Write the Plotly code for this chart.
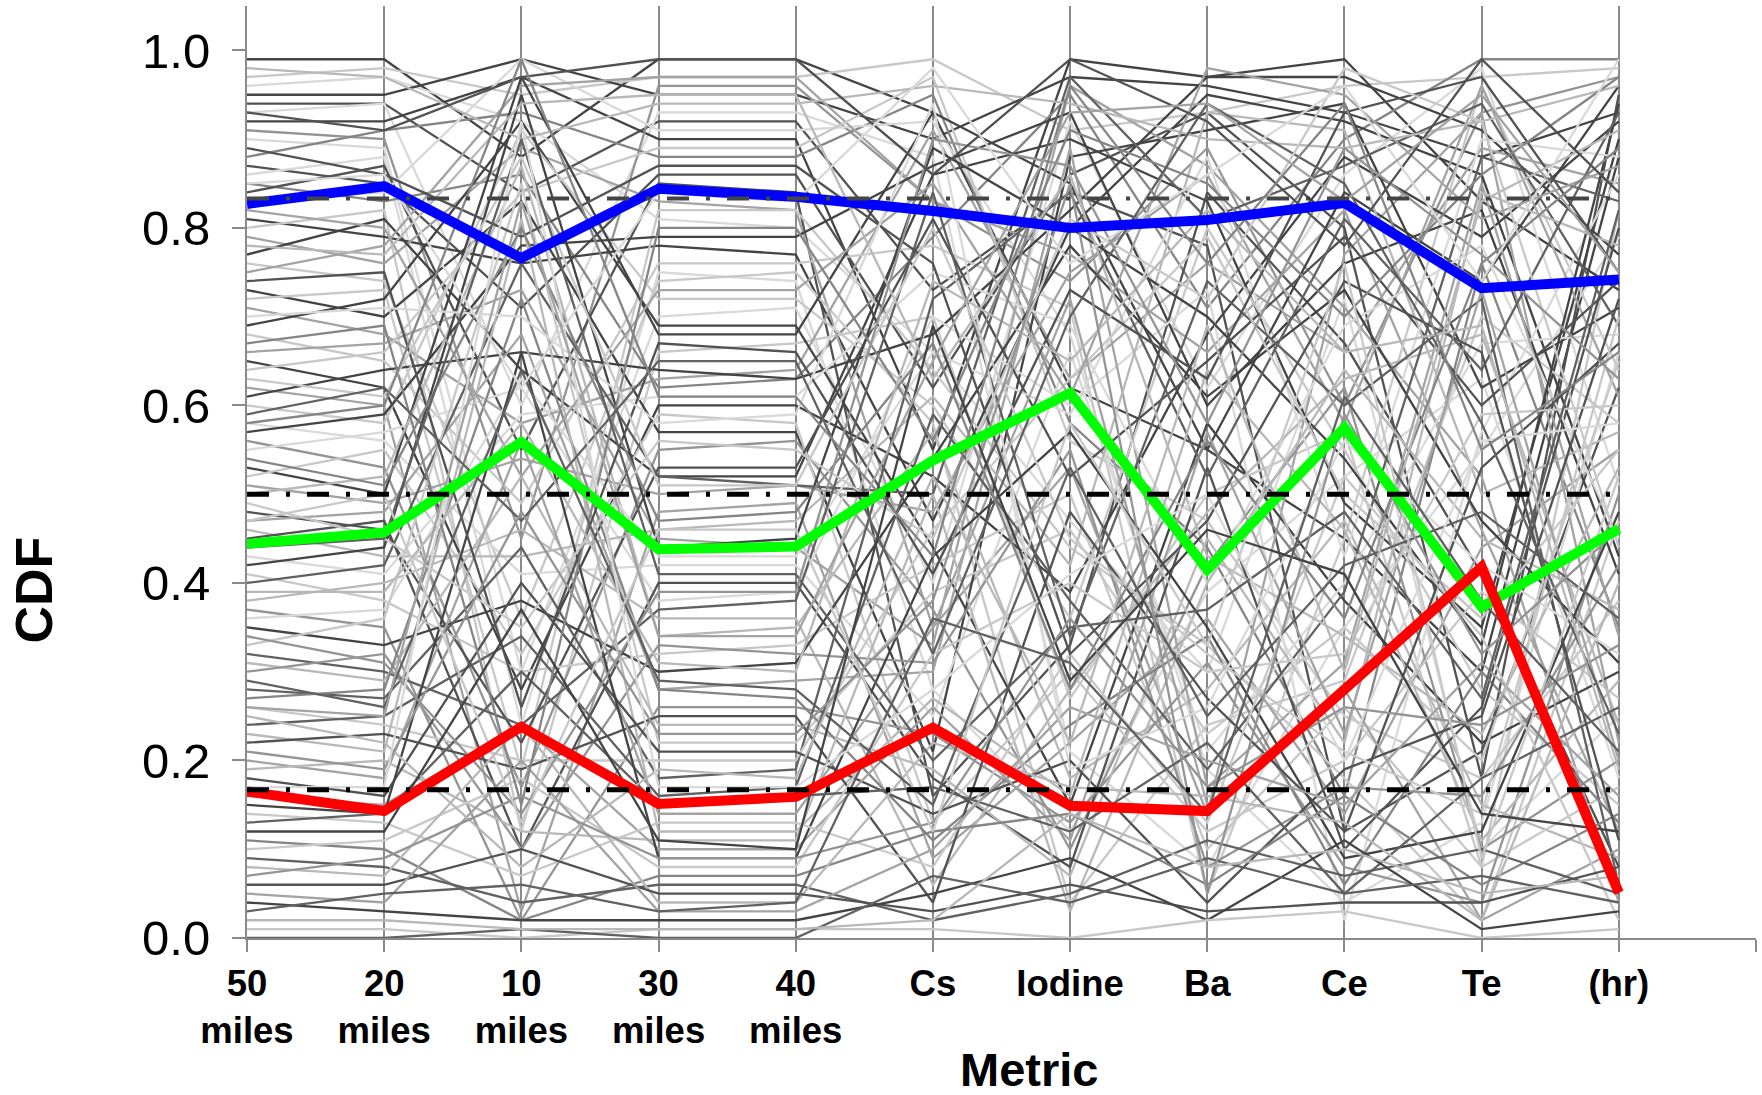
import plotly.graph_objects as go

# ---------------- data ----------------
CATEGORIES = ["50<br>miles", "20<br>miles", "10<br>miles", "30<br>miles", "40<br>miles",
              "Cs", "Iodine", "Ba", "Ce", "Te", "(hr)"]

BLUE_LINE = [0.827, 0.847, 0.766, 0.844, 0.835, 0.819, 0.800, 0.809, 0.828, 0.732, 0.742]
GREEN_LINE = [0.444, 0.457, 0.559, 0.438, 0.441, 0.538, 0.614, 0.415, 0.575, 0.373, 0.461]
RED_LINE = [0.165, 0.143, 0.238, 0.151, 0.159, 0.237, 0.149, 0.143, 0.280, 0.418, 0.051]

REF_LEVELS = [0.833, 0.5, 0.167]

GRAY_LINES = [
    [0.99, 0.99, 0.88, 0.99, 0.99, 0.93, 0.62, 0.55, 0.45, 0.30, 0.88],
    [0.97, 0.98, 0.95, 0.97, 0.97, 0.99, 0.91, 0.93, 0.96, 0.97, 0.98],
    [0.96, 0.97, 0.92, 0.81, 0.80, 0.66, 0.47, 0.30, 0.72, 0.10, 0.25],
    [0.95, 0.95, 0.99, 0.95, 0.95, 0.90, 0.97, 0.96, 0.93, 0.88, 0.93],
    [0.94, 0.94, 0.84, 0.92, 0.92, 0.73, 0.84, 0.78, 0.12, 0.21, 0.62],
    [0.93, 0.94, 0.60, 0.93, 0.93, 0.88, 0.21, 0.08, 0.35, 0.55, 0.79],
    [0.92, 0.92, 0.97, 0.90, 0.90, 0.55, 0.99, 0.97, 0.99, 0.83, 0.73],
    [0.91, 0.90, 0.45, 0.96, 0.96, 0.83, 0.74, 0.89, 0.60, 0.93, 0.97],
    [0.90, 0.89, 0.30, 0.70, 0.71, 0.40, 0.92, 0.62, 0.86, 0.98, 0.51],
    [0.88, 0.91, 0.93, 0.88, 0.88, 0.95, 0.58, 0.44, 0.16, 0.76, 0.35],
    [0.87, 0.85, 0.71, 0.86, 0.86, 0.62, 0.86, 0.93, 0.80, 0.18, 0.95],
    [0.86, 0.88, 0.24, 0.75, 0.74, 0.28, 0.12, 0.39, 0.52, 0.63, 0.18],
    [0.85, 0.83, 0.86, 0.62, 0.63, 0.79, 0.95, 0.71, 0.90, 0.99, 0.99],
    [0.84, 0.87, 0.55, 0.85, 0.84, 0.16, 0.33, 0.84, 0.67, 0.41, 0.08],
    [0.83, 0.84, 0.99, 0.91, 0.91, 0.92, 0.68, 0.19, 0.04, 0.13, 0.66],
    [0.81, 0.79, 0.76, 0.78, 0.77, 0.47, 0.80, 0.95, 0.92, 0.86, 0.43],
    [0.80, 0.82, 0.12, 0.66, 0.67, 0.70, 0.27, 0.50, 0.57, 0.08, 0.82],
    [0.79, 0.76, 0.89, 0.83, 0.82, 0.35, 0.53, 0.14, 0.77, 0.93, 0.22],
    [0.77, 0.81, 0.64, 0.52, 0.52, 0.86, 0.90, 0.83, 0.49, 0.35, 0.90],
    [0.76, 0.74, 0.36, 0.74, 0.75, 0.58, 0.04, 0.24, 0.29, 0.70, 0.58],
    [0.75, 0.78, 0.96, 0.97, 0.97, 0.83, 0.77, 0.66, 0.82, 0.46, 0.12],
    [0.73, 0.70, 0.83, 0.57, 0.57, 0.21, 0.88, 0.91, 0.94, 0.62, 0.71],
    [0.72, 0.73, 0.19, 0.82, 0.82, 0.64, 0.44, 0.33, 0.18, 0.02, 0.47],
    [0.71, 0.68, 0.58, 0.63, 0.64, 0.91, 0.63, 0.76, 0.66, 0.89, 0.85],
    [0.69, 0.72, 0.92, 0.69, 0.69, 0.44, 0.15, 0.58, 0.38, 0.22, 0.30],
    [0.68, 0.65, 0.49, 0.76, 0.76, 0.78, 0.71, 0.05, 0.45, 0.96, 0.64],
    [0.66, 0.67, 0.73, 0.45, 0.44, 0.33, 0.96, 0.87, 0.71, 0.52, 0.04],
    [0.65, 0.62, 0.28, 0.60, 0.60, 0.52, 0.39, 0.68, 0.88, 0.79, 0.92],
    [0.64, 0.66, 0.84, 0.89, 0.89, 0.97, 0.56, 0.47, 0.25, 0.18, 0.38],
    [0.62, 0.60, 0.03, 0.48, 0.49, 0.09, 0.22, 0.36, 0.14, 0.44, 0.55],
    [0.61, 0.64, 0.66, 0.64, 0.63, 0.68, 0.82, 0.97, 0.97, 0.91, 0.77],
    [0.60, 0.58, 0.91, 0.72, 0.72, 0.60, 0.36, 0.80, 0.55, 0.28, 0.15],
    [0.58, 0.56, 0.41, 0.42, 0.42, 0.25, 0.66, 0.21, 0.40, 0.67, 0.68],
    [0.57, 0.59, 0.78, 0.79, 0.79, 0.87, 0.93, 0.60, 0.76, 0.82, 0.41],
    [0.56, 0.53, 0.17, 0.55, 0.56, 0.37, 0.10, 0.42, 0.62, 0.10, 0.20],
    [0.55, 0.57, 0.62, 0.38, 0.39, 0.70, 0.60, 0.73, 0.02, 0.57, 0.86],
    [0.53, 0.50, 0.97, 0.68, 0.68, 0.93, 0.85, 0.55, 0.84, 0.74, 0.96],
    [0.52, 0.55, 0.32, 0.59, 0.58, 0.13, 0.30, 0.12, 0.20, 0.39, 0.27],
    [0.51, 0.49, 0.54, 0.50, 0.51, 0.48, 0.75, 0.86, 0.58, 0.96, 0.61],
    [0.50, 0.52, 0.87, 0.34, 0.35, 0.57, 0.18, 0.28, 0.47, 0.15, 0.09],
    [0.48, 0.46, 0.22, 0.53, 0.53, 0.81, 0.52, 0.65, 0.79, 0.60, 0.74],
    [0.47, 0.48, 0.68, 0.28, 0.29, 0.30, 0.89, 0.17, 0.31, 0.85, 0.34],
    [0.46, 0.43, 0.43, 0.46, 0.47, 0.61, 0.42, 0.93, 0.91, 0.50, 0.57],
    [0.45, 0.47, 0.10, 0.40, 0.40, 0.18, 0.08, 0.53, 0.10, 0.26, 0.80],
    [0.43, 0.41, 0.59, 0.61, 0.61, 0.75, 0.69, 0.40, 0.69, 0.78, 0.45],
    [0.42, 0.44, 0.95, 0.44, 0.45, 0.89, 0.80, 0.70, 0.54, 0.33, 0.94],
    [0.41, 0.38, 0.30, 0.32, 0.33, 0.42, 0.50, 0.10, 0.26, 0.08, 0.17],
    [0.40, 0.42, 0.76, 0.52, 0.51, 0.50, 0.97, 0.81, 0.87, 0.94, 0.69],
    [0.38, 0.40, 0.46, 0.36, 0.36, 0.06, 0.28, 0.48, 0.63, 0.68, 0.24],
    [0.37, 0.35, 0.02, 0.26, 0.26, 0.23, 0.13, 0.31, 0.08, 0.04, 0.50],
    [0.36, 0.37, 0.63, 0.43, 0.43, 0.66, 0.59, 0.88, 0.43, 0.90, 0.88],
    [0.35, 0.33, 0.38, 0.30, 0.31, 0.54, 0.78, 0.61, 0.73, 0.47, 0.31],
    [0.33, 0.36, 0.85, 0.22, 0.22, 0.39, 0.46, 0.23, 0.35, 0.20, 0.65],
    [0.32, 0.30, 0.24, 0.37, 0.38, 0.84, 0.34, 0.74, 0.60, 0.72, 0.06],
    [0.31, 0.29, 0.52, 0.24, 0.24, 0.19, 0.07, 0.45, 0.22, 0.84, 0.78],
    [0.30, 0.32, 0.10, 0.33, 0.32, 0.31, 0.55, 0.08, 0.17, 0.16, 0.42],
    [0.28, 0.27, 0.44, 0.18, 0.19, 0.72, 0.84, 0.52, 0.81, 0.64, 0.93],
    [0.27, 0.28, 0.72, 0.28, 0.27, 0.11, 0.24, 0.34, 0.06, 0.30, 0.13],
    [0.26, 0.24, 0.20, 0.20, 0.20, 0.46, 0.63, 0.79, 0.50, 0.36, 0.55],
    [0.24, 0.25, 0.34, 0.16, 0.17, 0.59, 0.38, 0.19, 0.39, 0.88, 0.83],
    [0.23, 0.21, 0.81, 0.12, 0.12, 0.27, 0.16, 0.64, 0.46, 0.11, 0.29],
    [0.22, 0.23, 0.19, 0.25, 0.25, 0.04, 0.48, 0.27, 0.12, 0.53, 0.67],
    [0.20, 0.18, 0.56, 0.14, 0.14, 0.35, 0.72, 0.15, 0.28, 0.02, 0.10],
    [0.19, 0.20, 0.12, 0.11, 0.11, 0.50, 0.03, 0.40, 0.64, 0.45, 0.37],
    [0.18, 0.16, 0.40, 0.21, 0.21, 0.14, 0.20, 0.04, 0.19, 0.25, 0.72],
    [0.16, 0.15, 0.24, 0.10, 0.10, 0.26, 0.11, 0.57, 0.23, 0.73, 0.20],
    [0.15, 0.14, 0.66, 0.09, 0.09, 0.43, 0.57, 0.35, 0.09, 0.12, 0.48],
    [0.14, 0.13, 0.07, 0.13, 0.13, 0.08, 0.32, 0.13, 0.52, 0.34, 0.02],
    [0.13, 0.14, 0.30, 0.15, 0.16, 0.17, 0.12, 0.22, 0.05, 0.18, 0.26],
    [0.11, 0.10, 0.02, 0.07, 0.07, 0.12, 0.14, 0.06, 0.16, 0.06, 0.14],
    [0.10, 0.11, 0.18, 0.08, 0.08, 0.32, 0.40, 0.30, 0.32, 0.59, 0.60],
    [0.09, 0.08, 0.04, 0.06, 0.06, 0.02, 0.05, 0.11, 0.07, 0.10, 0.05],
    [0.08, 0.07, 0.24, 0.04, 0.04, 0.22, 0.17, 0.16, 0.13, 0.02, 0.40],
    [0.06, 0.06, 0.10, 0.05, 0.05, 0.03, 0.06, 0.03, 0.04, 0.04, 0.08],
    [0.05, 0.04, 0.20, 0.03, 0.03, 0.10, 0.26, 0.20, 0.15, 0.31, 0.16],
    [0.04, 0.03, 0.02, 0.02, 0.02, 0.05, 0.09, 0.02, 0.11, 0.01, 0.03],
    [0.01, 0.01, 0.00, 0.01, 0.01, 0.01, 0.00, 0.02, 0.03, 0.00, 0.01],
    [0.00, 0.00, 0.01, 0.00, 0.00, 0.07, 0.04, 0.09, 0.05, 0.07, 0.04],
    [0.98, 0.97, 0.90, 0.94, 0.94, 0.96, 0.94, 0.90, 0.89, 0.92, 0.96],
    [0.89, 0.86, 0.79, 0.87, 0.87, 0.76, 0.32, 0.47, 0.74, 0.66, 0.11],
    [0.82, 0.80, 0.52, 0.73, 0.73, 0.85, 0.61, 0.98, 0.95, 0.81, 0.87],
    [0.78, 0.77, 0.94, 0.95, 0.95, 0.63, 0.86, 0.43, 0.34, 0.23, 0.53],
    [0.74, 0.75, 0.26, 0.67, 0.66, 0.41, 0.73, 0.63, 0.93, 0.97, 0.75],
    [0.70, 0.71, 0.70, 0.58, 0.59, 0.94, 0.19, 0.26, 0.56, 0.42, 0.32],
    [0.67, 0.69, 0.15, 0.80, 0.80, 0.56, 0.91, 0.85, 0.70, 0.86, 0.97],
    [0.63, 0.61, 0.88, 0.51, 0.51, 0.80, 0.45, 0.32, 0.21, 0.14, 0.70],
    [0.59, 0.62, 0.47, 0.65, 0.65, 0.32, 0.70, 0.94, 0.85, 0.58, 0.23],
    [0.54, 0.51, 0.80, 0.47, 0.48, 0.67, 0.28, 0.56, 0.36, 0.76, 0.89],
    [0.49, 0.45, 0.35, 0.56, 0.55, 0.45, 0.81, 0.72, 0.98, 0.92, 0.44],
    [0.44, 0.45, 0.90, 0.41, 0.41, 0.20, 0.35, 0.37, 0.48, 0.27, 0.82],
    [0.39, 0.39, 0.58, 0.31, 0.30, 0.74, 0.65, 0.82, 0.66, 0.69, 0.19],
    [0.34, 0.31, 0.14, 0.39, 0.39, 0.90, 0.87, 0.58, 0.89, 0.77, 0.63],
    [0.29, 0.26, 0.64, 0.29, 0.28, 0.15, 0.53, 0.25, 0.42, 0.48, 0.36],
    [0.25, 0.22, 0.08, 0.19, 0.18, 0.52, 0.22, 0.69, 0.30, 0.83, 0.91],
    [0.21, 0.19, 0.48, 0.23, 0.23, 0.38, 0.85, 0.05, 0.59, 0.32, 0.46],
    [0.17, 0.17, 0.92, 0.17, 0.17, 0.28, 0.41, 0.50, 0.20, 0.56, 0.58],
    [0.12, 0.12, 0.37, 0.11, 0.10, 0.69, 0.29, 0.46, 0.41, 0.14, 0.12],
    [0.07, 0.09, 0.16, 0.09, 0.09, 0.13, 0.36, 0.17, 0.26, 0.24, 0.33],
    [0.03, 0.05, 0.06, 0.03, 0.04, 0.36, 0.31, 0.14, 0.61, 0.38, 0.21],
    [0.02, 0.02, 0.01, 0.01, 0.01, 0.02, 0.14, 0.08, 0.10, 0.05, 0.07],
    [0.93, 0.91, 0.97, 0.99, 0.99, 0.86, 0.99, 0.92, 0.78, 0.99, 0.84],
    [0.85, 0.86, 0.62, 0.84, 0.83, 0.98, 0.76, 0.86, 0.96, 0.74, 0.99],
    [0.58, 0.60, 0.99, 0.61, 0.61, 0.43, 0.96, 0.76, 0.94, 0.55, 0.66],
    [0.47, 0.50, 0.13, 0.46, 0.46, 0.12, 0.58, 0.33, 0.76, 0.09, 0.52],
    [0.26, 0.25, 0.83, 0.34, 0.34, 0.65, 0.93, 0.94, 0.83, 0.95, 0.75],
]

# shade class of each gray line (d = dark, m = mid, l = light)
GRAY_CLASS = ("dllddldmlmdlmdldlmdlmdlmdlmdlmdlldmldlmldmldldldlmldldlmdmldldmldmdldmldldmd"
              "ldldmldlmldmldlmdlmldmdldlmlmd")

# ---------------- styles ----------------
SHADES = {
    "d": ["#444444", "#525252", "#616161"],
    "m": ["#858585", "#949494", "#a3a3a3"],
    "l": ["#b8b8b8", "#c8c8c8", "#d9d9d9"],
}
AXIS_GRAY = "#8a8a8a"
FONT = "Liberation Sans, Arial, sans-serif"

x_idx = list(range(len(CATEGORIES)))

fig = go.Figure()

for i, ys in enumerate(GRAY_LINES):
    cls = GRAY_CLASS[i % len(GRAY_CLASS)]
    col = SHADES[cls][i % 3]
    fig.add_trace(go.Scatter(x=x_idx, y=ys, mode="lines",
                             line=dict(color=col, width=2.3),
                             hoverinfo="skip", showlegend=False))

for ys, col in [(BLUE_LINE, "#0000ff"), (GREEN_LINE, "#00ff00"), (RED_LINE, "#ff0000")]:
    fig.add_trace(go.Scatter(x=x_idx, y=ys, mode="lines",
                             line=dict(color=col, width=10),
                             hoverinfo="skip", showlegend=False))

ref_styles = [("#444444", 4), ("#000000", 5), ("#000000", 5)]
for lvl, (col, w) in zip(REF_LEVELS, ref_styles):
    fig.add_trace(go.Scatter(x=[x_idx[0], x_idx[-1]], y=[lvl, lvl], mode="lines",
                             line=dict(color=col, width=w, dash="22px,17px,4px,17px"),
                             hoverinfo="skip", showlegend=False))

tickvals = list(range(len(CATEGORIES) + 1))
ticktext = ["<b>" + c.replace("<br>", "</b><br><b>") + "</b>" for c in CATEGORIES] + [""]

fig.update_layout(
    width=1762, height=1095,
    margin=dict(l=247, r=6, t=6, b=157),
    paper_bgcolor="white", plot_bgcolor="white",
    showlegend=False,
    font=dict(family=FONT, color="black"),
    xaxis=dict(range=[0, len(CATEGORIES)], tickvals=tickvals, ticktext=ticktext,
               showgrid=True, gridcolor=AXIS_GRAY, gridwidth=1.5,
               showline=True, linecolor=AXIS_GRAY, linewidth=2,
               ticks="outside", ticklen=12, tickcolor=AXIS_GRAY, tickwidth=1.5,
               tickfont=dict(size=36.5, family=FONT, color="black"),
               zeroline=False, fixedrange=True),
    yaxis=dict(range=[0, 1.05], tickvals=[0, 0.2, 0.4, 0.6, 0.8, 1.0],
               ticktext=["0.0", "0.2", "0.4", "0.6", "0.8", "1.0"],
               showgrid=False, showline=True, linecolor=AXIS_GRAY, linewidth=2,
               ticks="outside", ticklen=13, tickcolor=AXIS_GRAY, tickwidth=1.5,
               tickfont=dict(size=49, family=FONT, color="black"),
               ticklabelstandoff=12,
               zeroline=False, fixedrange=True),
    annotations=[
        dict(text="<b>Metric</b>", xref="paper", yref="paper", x=0.518, y=-0.141,
             xanchor="center", yanchor="middle", showarrow=False,
             font=dict(size=47, family=FONT, color="black")),
        dict(text="<b>CDF</b>", xref="paper", yref="paper", x=-0.141, y=0.373,
             xanchor="center", yanchor="middle", showarrow=False, textangle=-90,
             font=dict(size=52, family=FONT, color="black")),
    ],
)

fig.write_html("out.html")
